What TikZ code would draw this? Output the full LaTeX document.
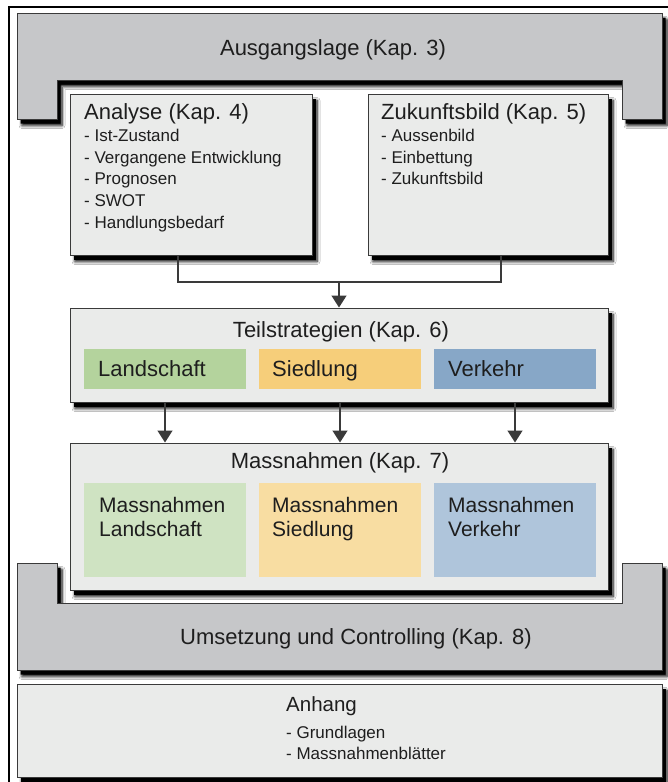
\documentclass[tikz,border=0pt]{standalone}
\usepackage{fontspec}
\setmainfont{Liberation Sans}
\usetikzlibrary{shadows.blur,arrows.meta}
\definecolor{ugray}{HTML}{C6C7C9}
\definecolor{boxfill}{HTML}{EAEBEA}
\definecolor{edge}{HTML}{3A3A3A}
\definecolor{gA}{HTML}{B4D39D}
\definecolor{oA}{HTML}{F6CE7A}
\definecolor{bA}{HTML}{87A7C7}
\definecolor{gB}{HTML}{CFE3C2}
\definecolor{oB}{HTML}{F8DDA2}
\definecolor{bB}{HTML}{AFC5DB}
\definecolor{txt}{HTML}{1E1E1E}
\tikzset{
  dropshade/.style={
    blur shadow={shadow xshift=5pt,shadow yshift=-6.5pt,shadow blur radius=3pt,shadow blur steps=6,shadow opacity=100},
    preaction={fill=black,transform canvas={xshift=3.5pt,yshift=-4.5pt}}},
  ubar/.style={fill=ugray,draw=edge,line width=1pt,dropshade},
  panel/.style={fill=boxfill,draw=edge,line width=1pt,dropshade,inner sep=0pt},
  tile/.style={draw=none,inner sep=0pt,minimum width=162,minimum height=40},
  bigtile/.style={draw=none,inner sep=0pt,minimum width=162,minimum height=94},
  ttl/.style={font=\fontsize{22}{26}\selectfont,text=txt,inner sep=0pt},
  lst/.style={font=\fontsize{17}{21.7}\selectfont,text=txt,align=left,inner sep=0pt},
  tilelbl/.style={font=\fontsize{21}{24}\selectfont,text=txt,align=left,inner sep=0pt},
  conn/.style={draw=edge,line width=1.3pt},
  arr/.style={conn,-{Triangle[width=15pt,length=12pt]}},
}
\begin{document}
\begin{tikzpicture}[x=1pt,y=-1pt]
\useasboundingbox (0,0) rectangle (667,782);
\fill[white] (0,0) rectangle (667,782);
\draw[line width=2.5pt] (9,800) -- (9,7) -- (690,7);

% Ausgangslage
\path[ubar] (17,13) -- (662,13) -- (662,119) -- (622,119) -- (622,80) -- (57,80) -- (57,119) -- (17,119) -- cycle;
\node[ttl,anchor=base] (ausg) at (333,55) {Ausgangslage (Kap. 3)};

% Umsetzung
\path[ubar] (17,563) -- (57,563) -- (57,603) -- (622,603) -- (622,563) -- (662,563) -- (662,670) -- (17,670) -- cycle;
\node[ttl,anchor=base] (ums) at (356,644) {Umsetzung und Controlling (Kap. 8)};

% Analyse
\node[panel,minimum width=242,minimum height=161] (ana) at (191,174.5) {};
\node[ttl,anchor=base west] (anat) at (84,119) {Analyse (Kap. 4)};
\node[lst,anchor=north west] (anal) at (84,129) {- Ist-Zustand\\- Vergangene Entwicklung\\- Prognosen\\- SWOT\\- Handlungsbedarf};

% Zukunftsbild
\node[panel,minimum width=240,minimum height=161] (zuk) at (488,174.5) {};
\node[ttl,anchor=base west] (zukt) at (381,119) {Zukunftsbild (Kap. 5)};
\node[lst,anchor=north west] (zukl) at (381,129) {- Aussenbild\\- Einbettung\\- Zukunftsbild};

% Teilstrategien
\node[panel,minimum width=538,minimum height=94] (teil) at (339,355) {};
\node[ttl,anchor=base] (teilt) at (341,337) {Teilstrategien (Kap. 6)};
\node[tile,fill=gA] (tl) at (165,369) {};
\node[tile,fill=oA] (ts) at (340,369) {};
\node[tile,fill=bA] (tv) at (515,369) {};
\node[ttl,anchor=base west] (tlt) at (98,376) {Landschaft};
\node[ttl,anchor=base west] (tst) at (272,376) {Siedlung};
\node[ttl,anchor=base west] (tvt) at (448,376) {Verkehr};

% Massnahmen
\node[panel,minimum width=538,minimum height=147] (mass) at (339,516.5) {};
\node[ttl,anchor=base] (masst) at (340,468) {Massnahmen (Kap. 7)};
\node[bigtile,fill=gB] (ml) at (165,530) {};
\node[bigtile,fill=oB] (ms) at (340,530) {};
\node[bigtile,fill=bB] (mv) at (515,530) {};
\node[tilelbl,anchor=north west] (mlt) at (99,497) {Massnahmen\\Landschaft};
\node[tilelbl,anchor=north west] (mst) at (272,497) {Massnahmen\\Siedlung};
\node[tilelbl,anchor=north west] (mvt) at (448,497) {Massnahmen\\Verkehr};

% Anhang
\node[panel,minimum width=645,minimum height=93] (anh) at (339.5,730.5) {};
\node[font=\fontsize{20.5}{24}\selectfont,text=txt,inner sep=0pt,anchor=base west] (anht) at (286,711) {Anhang};
\node[lst,font=\fontsize{17}{21}\selectfont,anchor=north west] (anhl) at (286,725.5) {- Grundlagen\\- Massnahmenblätter};

% connectors
\coordinate (jl) at ([xshift=-13pt]ana.south |- 0,282);
\coordinate (jr) at ([xshift=13pt]zuk.south |- 0,282);
\coordinate (jm) at (teil.north |- 0,282);
\draw[conn] ([xshift=-13pt]ana.south) -- (jl) -- (jr) -- ([xshift=13pt]zuk.south);
\draw[arr] (jm) -- (teil.north);
\draw[arr] (teil.south -| tl) -- (mass.north -| tl);
\draw[arr] (teil.south -| ts) -- (mass.north -| ts);
\draw[arr] (teil.south -| tv) -- (mass.north -| tv);
\end{tikzpicture}
\end{document}
